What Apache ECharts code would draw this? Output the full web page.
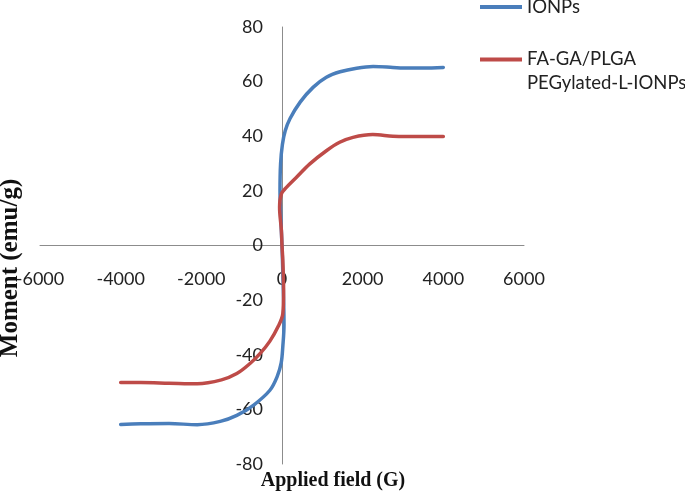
<!DOCTYPE html>
<html>
<head>
<meta charset="utf-8">
<script src="https://cdn.jsdelivr.net/npm/echarts@6/dist/echarts.min.js"></script>
<style>
html,body{margin:0;padding:0;background:#fff;}
#chart{width:685px;height:493px;}
</style>
</head>
<body>
<div id="chart"></div>
<script>
// Series names
var seriesNames = ['IONPs', 'FA-GA/PLGA PEGylated-L-IONPs'];

// IONPs (blue) : applied field (G) and moment (emu/g)
var ionpsX = [-4000,-3500,-2800,-2100,-1530,-1120,-710,-300,-120,-20,20,50,40,20,0,-30,-50,-35,10,80,200,450,770,1100,1440,1850,2260,2750,3000,3500,4000];
var ionpsY = [-65.5,-65.3,-65.2,-65.6,-64.4,-62.2,-58.5,-53,-48,-43,-37,-29,-20,-10,0,10,20,30,37,42,46.5,52.5,57.9,61.6,63.6,64.9,65.5,65.2,65,65,65.2];

// FA-GA/PLGA PEGylated-L-IONPs (red)
var coatedX = [-4000,-3500,-2800,-2100,-1500,-1120,-800,-540,-300,-90,20,40,20,0,-15,-60,-15,110,360,690,1100,1430,1760,2250,2750,3100,3500,4000];
var coatedY = [-50.2,-50.2,-50.4,-50.6,-49.2,-46.9,-43.3,-39.5,-35,-29.5,-25,-16.5,-5.5,0,5.5,14,18.9,21.3,25,29.9,34.7,37.8,39.6,40.6,40,39.9,39.9,39.9];

// Axis settings
var xTicks = {min: -6000, max: 6000, interval: 2000};
var yTicks = {min: -80, max: 80, interval: 20};
var xTitle = 'Applied field (G)';
var yTitle = 'Moment (emu/g)';

function pairs(xs, ys){ return xs.map(function(x,i){ return [x, ys[i]]; }); }

var W = 685, H = 493;
var G = {left: 40, right: 161, top: 27, bottom: 29};
var plotW = W - G.left - G.right, plotH = H - G.top - G.bottom;
// shift axes so they cross at (0,0)
var xZeroFrac = (0 - xTicks.min) / (xTicks.max - xTicks.min);
var yZeroFrac = (0 - yTicks.min) / (yTicks.max - yTicks.min);

var chart = echarts.init(document.getElementById('chart'), null, {renderer:'canvas'});
var tickFont = {fontFamily: 'Lato', fontSize: 18, color: '#222'};
var legendFont = {fontFamily: 'Lato', fontSize: 18.5, color: '#222'};
var option = {
  animation: false,
  backgroundColor: '#fff',
  grid: {left: G.left, right: G.right, top: G.top, bottom: G.bottom, containLabel: false, outerBoundsMode: 'none'},
  xAxis: {
    type: 'value', min: xTicks.min, max: xTicks.max, interval: xTicks.interval,
    position: 'bottom', offset: -plotH * yZeroFrac,
    axisLine: {onZero: false, lineStyle: {color: '#8c8c8c', width: 1}},
    axisTick: {show: false},
    splitLine: {show: false},
    axisLabel: Object.assign({margin: 25, formatter: function(v){ return String(v); }}, tickFont)
  },
  yAxis: {
    type: 'value', min: yTicks.min, max: yTicks.max, interval: yTicks.interval,
    position: 'left', offset: -plotW * xZeroFrac,
    axisLine: {show: true, onZero: false, lineStyle: {color: '#8c8c8c', width: 1}},
    axisTick: {show: false},
    splitLine: {show: false},
    axisLabel: Object.assign({margin: 19, formatter: function(v){ return String(v); }}, tickFont)
  },
  legend: [
    {
      data: [seriesNames[0]], left: 480, top: -5, padding: 0,
      icon: 'rect', itemWidth: 42, itemHeight: 4,
      textStyle: Object.assign({lineHeight: 24}, legendFont)
    },
    {
      data: [seriesNames[1]], left: 480, top: 50, padding: 0,
      icon: 'rect', itemWidth: 42, itemHeight: 4,
      formatter: function(name){
        var i = name.indexOf(' ');
        return '{a|' + name.slice(0, i) + '}\n{b|' + name.slice(i + 1) + '}';
      },
      textStyle: Object.assign({
        rich: {
          a: Object.assign({lineHeight: 48, verticalAlign: 'bottom'}, legendFont),
          b: Object.assign({lineHeight: 29}, legendFont)
        }
      }, legendFont)
    }
  ],
  graphic: [
    {type: 'text', x: 333, y: 481, style: {text: xTitle, font: 'bold 20px "Liberation Serif", serif', fill: '#111', align: 'center', verticalAlign: 'middle'}},
    {type: 'text', x: 11, y: 268, rotation: Math.PI/2, style: {text: yTitle, font: 'bold 25px "Liberation Serif", serif', fill: '#111', align: 'center', verticalAlign: 'middle'}}
  ],
  series: [
    {
      name: seriesNames[0], type: 'line', data: pairs(ionpsX, ionpsY),
      showSymbol: false, smooth: 0.35, color: '#4a7ebb',
      lineStyle: {width: 3.5, color: '#4a7ebb', cap: 'round'}
    },
    {
      name: seriesNames[1], type: 'line', data: pairs(coatedX, coatedY),
      showSymbol: false, smooth: 0.35, color: '#be4b48',
      lineStyle: {width: 3.5, color: '#be4b48', cap: 'round'}
    }
  ]
};
chart.setOption(option);
</script>
</body>
</html>
